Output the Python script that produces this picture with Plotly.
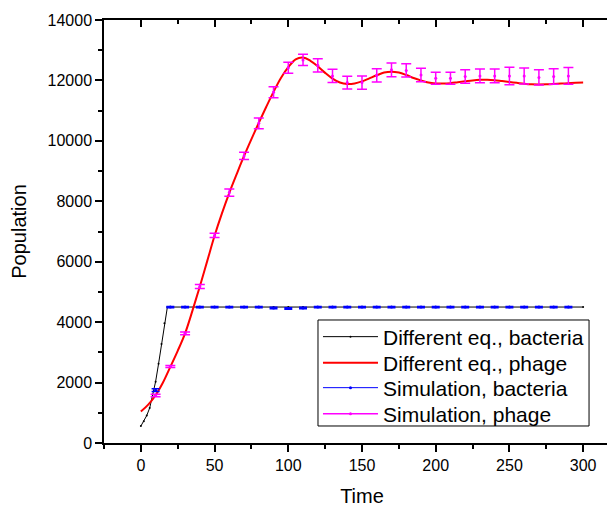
"""Bacteria / phage population: differential equations vs simulation."""

import plotly.graph_objects as go

# Differential equation, bacteria
de_bact_t = [0, 2, 4, 6, 8, 10, 12, 14, 16, 18,
             30, 40, 50, 60, 70, 80, 90, 100, 110, 120, 130, 140, 150,
             160, 170, 180, 190, 200, 210, 220, 230, 240, 250, 260, 270, 280, 290, 300]
de_bact = [560, 720, 910, 1160, 1600, 2030, 2620, 3280, 3960, 4500,
           4500, 4500, 4500, 4500, 4500, 4500, 4500, 4500, 4500, 4500, 4500, 4500, 4500,
           4500, 4500, 4500, 4500, 4500, 4500, 4500, 4500, 4500, 4500, 4500, 4500, 4500, 4500, 4500]

# Differential equation, phage
de_phage_t = [0, 5, 10, 15, 20, 25, 30, 35, 40, 45, 50, 55, 60, 65, 70, 75, 80, 85, 90, 95,
              100, 105, 110, 115, 120, 125, 130, 135, 140, 145, 150, 155, 160, 165, 170, 175,
              180, 185, 190, 195, 200, 205, 210, 215, 220, 225, 230, 235, 240, 245, 250, 255,
              260, 265, 270, 275, 280, 285, 290, 295, 300]
de_phage = [1040, 1270, 1580, 2000, 2520, 3050, 3630, 4380, 5180, 6020, 6860, 7600, 8280, 8900,
            9500, 10060, 10600, 11120, 11620, 12080, 12440, 12700, 12760, 12650, 12470, 12250,
            12060, 11930, 11880, 11900, 11970, 12070, 12170, 12260, 12290, 12260, 12180, 12080,
            12000, 11930, 11900, 11895, 11910, 11940, 11970, 12000, 12020, 12025, 12010, 11980,
            11950, 11920, 11890, 11870, 11865, 11870, 11880, 11895, 11910, 11925, 11930]

# Simulation (mean +/- error)
sim_t = [10, 20, 30, 40, 50, 60, 70, 80, 90, 100, 110, 120, 130, 140, 150,
         160, 170, 180, 190, 200, 210, 220, 230, 240, 250, 260, 270, 280, 290]
sim_bact = [1750, 4500, 4500, 4500, 4500, 4500, 4500, 4500, 4470, 4450, 4470, 4500, 4500, 4500, 4500,
            4500, 4500, 4500, 4500, 4500, 4500, 4500, 4500, 4500, 4500, 4500, 4500, 4500, 4500]
sim_bact_err = [45, 20, 20, 20, 20, 20, 20, 20, 25, 25, 25, 20, 20, 20, 20,
                20, 20, 20, 20, 20, 20, 20, 20, 20, 20, 20, 20, 20, 20]
sim_phage = [1570, 2530, 3630, 5180, 6870, 8290, 9500, 10580, 11610, 12420, 12680, 12500, 12150,
             11930, 11930, 12170, 12350, 12330, 12180, 12070, 12070, 12130, 12150, 12150, 12150,
             12150, 12100, 12130, 12150]
sim_phage_err = [40, 35, 45, 70, 70, 120, 120, 180, 180, 180, 190, 220, 220, 210, 220,
                 220, 230, 220, 220, 200, 200, 220, 230, 230, 290, 265, 250, 260, 275]

FONT = "Arial, Liberation Sans, sans-serif"
XR = [-25, 325]
YR = [0, 14000]

fig = go.Figure()
fig.add_trace(go.Scatter(x=de_bact_t, y=de_bact, mode="lines+markers", name="Different eq., bacteria",
                         line=dict(color="black", width=1), marker=dict(color="black", size=2),
                         legend="legend"))
fig.add_trace(go.Scatter(x=de_phage_t, y=de_phage, mode="lines", name="Different eq., phage",
                         line=dict(color="#ff0000", width=2, shape="spline"), legend="legend2"))
fig.add_trace(go.Scatter(x=sim_t, y=sim_bact, mode="markers", showlegend=False,
                         marker=dict(color="#0000ff", size=3),
                         error_y=dict(type="data", array=sim_bact_err, color="#0000ff",
                                      thickness=1.5, width=4)))
fig.add_trace(go.Scatter(x=sim_t, y=sim_phage, mode="markers", showlegend=False,
                         marker=dict(color="#ff00ff", size=3),
                         error_y=dict(type="data", array=sim_phage_err, color="#ff00ff",
                                      thickness=1.5, width=5)))
# legend entries for the simulation series (drawn as line + dot, like the original)
fig.add_trace(go.Scatter(x=[None], y=[None], mode="lines+markers", name="Simulation, bacteria",
                         line=dict(color="#0000ff", width=1), marker=dict(color="#0000ff", size=3),
                         legend="legend3"))
fig.add_trace(go.Scatter(x=[None], y=[None], mode="lines+markers", name="Simulation, phage",
                         line=dict(color="#ff00ff", width=1.5), marker=dict(color="#ff00ff", size=3),
                         legend="legend4"))
# empty trace holding the top / right frame axes
fig.add_trace(go.Scatter(x=[None], y=[None], xaxis="x2", yaxis="y2", showlegend=False, hoverinfo="skip"))

axis_common = dict(showgrid=False, zeroline=False, linecolor="black", linewidth=1.5, automargin=False,
                   tickcolor="black", tickwidth=1.5, tickfont=dict(family=FONT, size=16, color="black"))
minor_common = dict(ticklen=4, tickwidth=1.5, tickcolor="black")

# one single-entry legend per row, framed by a box shape
leg_x = 0.4147
leg_rows = [0.2506, 0.1891, 0.1300, 0.0686]
leg_style = dict(x=leg_x, xanchor="left", yanchor="middle", bgcolor="rgba(0,0,0,0)", borderwidth=0,
                 font=dict(size=21, family=FONT, color="black"), itemwidth=55)

fig.update_layout(
    width=615, height=508,
    margin=dict(l=96, r=3, t=12, b=73),
    paper_bgcolor="white", plot_bgcolor="white",
    font=dict(family=FONT, color="black"),
    xaxis=dict(range=XR, tick0=0, dtick=50, ticks="outside", ticklen=7, showline=True,
               minor=dict(dtick=25, tick0=0, ticks="outside", **minor_common),
               title=dict(text="Time", font=dict(size=20), standoff=16), **axis_common),
    yaxis=dict(range=YR, dtick=2000, ticks="outside", ticklen=7, showline=True, tickformat="d",
               minor=dict(dtick=1000, ticks="outside", **minor_common),
               title=dict(text="Population", font=dict(size=20), standoff=19), **axis_common),
    xaxis2=dict(range=XR, overlaying="x", side="top", tick0=0, dtick=50, ticks="inside", ticklen=7,
                showline=True, showticklabels=False,
                minor=dict(dtick=25, tick0=0, ticks="inside", **minor_common), **axis_common),
    yaxis2=dict(range=YR, overlaying="y", side="right", dtick=2000, ticks="inside", ticklen=7,
                showline=True, showticklabels=False,
                minor=dict(dtick=1000, ticks="inside", **minor_common), **axis_common),
    legend=dict(y=leg_rows[0], **leg_style),
    legend2=dict(y=leg_rows[1], **leg_style),
    legend3=dict(y=leg_rows[2], **leg_style),
    legend4=dict(y=leg_rows[3], **leg_style),
    shapes=[dict(type="rect", xref="paper", yref="paper", x0=leg_x, x1=0.940, y0=0.0402, y1=0.2908,
                 line=dict(color="black", width=1), fillcolor="white", layer="above")],
    showlegend=True,
)

fig.write_html("out.html")
